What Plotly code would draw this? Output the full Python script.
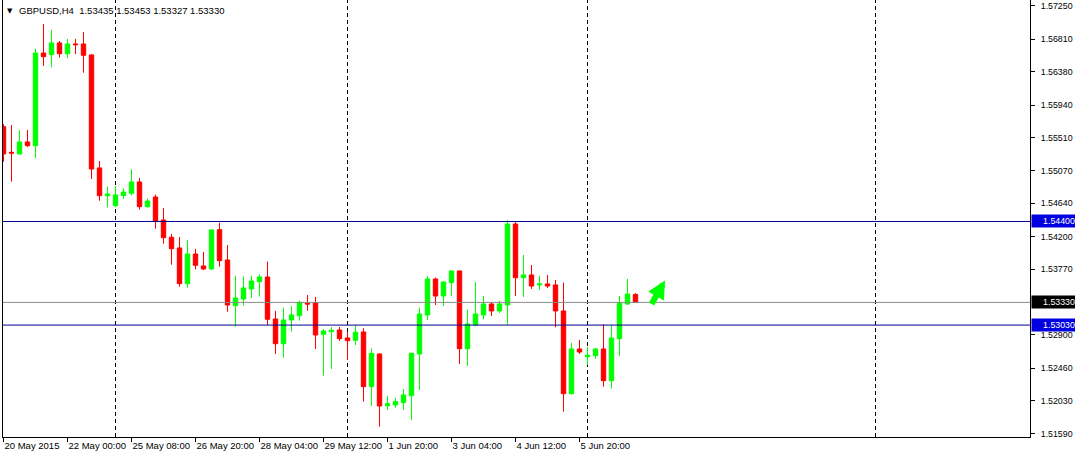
import plotly.graph_objects as go

# ---------------- data (GBPUSD, H4) ----------------
bar_index = list(range(80))

opens = [1.55654, 1.55315, 1.55293, 1.55452, 1.55403, 1.56628, 1.56606, 1.56761, 1.56619, 1.56748,
         1.56747, 1.56602, 1.55108, 1.54741, 1.54609, 1.54744, 1.54773, 1.54923, 1.54596, 1.54724,
         1.54420, 1.54191, 1.54050, 1.53578, 1.53970, 1.53812, 1.53772, 1.54292, 1.53891, 1.53287,
         1.53375, 1.53508, 1.53604, 1.53666, 1.53111, 1.52784, 1.53098, 1.53155, 1.53322, 1.53326,
         1.52909, 1.52943, 1.52965, 1.52860, 1.52829, 1.52939, 1.52216, 1.52648, 1.51964, 1.51974,
         1.52004, 1.52097, 1.52648, 1.53164, 1.53640, 1.53415, 1.53591, 1.53746, 1.52718, 1.53032,
         1.53164, 1.53309, 1.53217, 1.53296, 1.54367, 1.53657, 1.53693, 1.53561, 1.53574, 1.53561,
         1.53217, 1.52123, 1.52714, 1.52612, 1.52626, 1.52714, 1.52295, 1.52850, 1.53309, 1.53435]

highs = [1.55690, 1.55676, 1.55606, 1.55610, 1.56685, 1.57012, 1.56937, 1.56787, 1.56814, 1.56814,
         1.56906, 1.56615, 1.55200, 1.54860, 1.54870, 1.54837, 1.55091, 1.54975, 1.54702, 1.54755,
         1.54579, 1.54235, 1.54195, 1.54152, 1.54037, 1.53997, 1.54294, 1.54384, 1.54089, 1.53680,
         1.53673, 1.53680, 1.53702, 1.53869, 1.53217, 1.53260, 1.53279, 1.53353, 1.53428, 1.53402,
         1.52979, 1.53005, 1.53005, 1.52935, 1.53032, 1.52988, 1.52723, 1.52655, 1.52093, 1.52070,
         1.52185, 1.52661, 1.53260, 1.53680, 1.53657, 1.53607, 1.53752, 1.53752, 1.53239, 1.53600,
         1.53415, 1.53336, 1.53349, 1.54420, 1.54394, 1.53957, 1.53825, 1.53680, 1.53693, 1.53627,
         1.53591, 1.52794, 1.52833, 1.52741, 1.52727, 1.53041, 1.53032, 1.53415, 1.53640, 1.53453]

lows = [1.55191, 1.54927, 1.55290, 1.55385, 1.55236, 1.56457, 1.56439, 1.56566, 1.56558, 1.56615,
        1.56368, 1.54962, 1.54675, 1.54588, 1.54588, 1.54698, 1.54747, 1.54556, 1.54583, 1.54305,
        1.54107, 1.53829, 1.53538, 1.53525, 1.53768, 1.53759, 1.53759, 1.53802, 1.53207, 1.53009,
        1.53289, 1.53389, 1.53406, 1.53032, 1.52648, 1.52599, 1.52943, 1.53088, 1.53221, 1.52714,
        1.52361, 1.52450, 1.52820, 1.52569, 1.52767, 1.52017, 1.51960, 1.51687, 1.51908, 1.51938,
        1.51908, 1.51775, 1.52172, 1.53098, 1.53296, 1.53283, 1.53415, 1.52516, 1.52489, 1.53025,
        1.53107, 1.53151, 1.53190, 1.53032, 1.53415, 1.53402, 1.53508, 1.53494, 1.53521, 1.53001,
        1.51885, 1.52110, 1.52648, 1.52503, 1.52582, 1.52216, 1.52189, 1.52622, 1.53296, 1.53327]

closes = [1.55293, 1.55305, 1.55452, 1.55403, 1.56628, 1.56580, 1.56761, 1.56619, 1.56747, 1.56738,
          1.56598, 1.55094, 1.54741, 1.54764, 1.54751, 1.54790, 1.54923, 1.54596, 1.54671, 1.54407,
          1.54186, 1.54041, 1.53578, 1.53970, 1.53821, 1.53772, 1.54288, 1.53882, 1.53296, 1.53389,
          1.53521, 1.53613, 1.53666, 1.53107, 1.52784, 1.53098, 1.53164, 1.53332, 1.53309, 1.52899,
          1.52952, 1.52961, 1.52850, 1.52824, 1.52935, 1.52216, 1.52657, 1.51960, 1.51991, 1.52017,
          1.52106, 1.52657, 1.53177, 1.53640, 1.53415, 1.53600, 1.53746, 1.52718, 1.53045, 1.53177,
          1.53309, 1.53217, 1.53309, 1.54367, 1.53657, 1.53693, 1.53547, 1.53574, 1.53547, 1.53217,
          1.52123, 1.52714, 1.52674, 1.52631, 1.52714, 1.52295, 1.52860, 1.53322, 1.53441, 1.53330]

time_tick_index = [0, 8, 16, 24, 32, 40, 48, 56, 64, 72]
time_tick_labels = ["20 May 2015", "22 May 00:00", "25 May 08:00", "26 May 20:00", "28 May 04:00",
                    "29 May 12:00", "1 Jun 20:00", "3 Jun 04:00", "4 Jun 12:00", "5 Jun 20:00"]

price_ticks = [1.57250, 1.56810, 1.56380, 1.55940, 1.55510, 1.55070, 1.54640,
               1.54200, 1.53770, 1.52900, 1.52460, 1.52030, 1.51590]
price_tick_labels = ["%.5f" % p for p in price_ticks]

week_separators = [14, 43, 73, 109]          # bar index of week starts
level_lines = [1.54400, 1.53030]             # horizontal line objects
bid_price = 1.53330
header_text = "GBPUSD,H4  1.53435 1.53453 1.53327 1.53330"
arrow_tip = (82.7, 1.53620)
arrow_tail = (80.9, 1.53290)

x_range = [-0.0625, 128.3125]
y_range = [1.51550, 1.57329]

FONT = "Liberation Sans, Arial, sans-serif"
LINE_BLUE = "#000096"
BOX_BLUE = "#0000e0"

fig = go.Figure()

fig.add_trace(go.Candlestick(
    x=bar_index, open=opens, high=highs, low=lows, close=closes,
    increasing=dict(line=dict(color="#00ff00", width=1), fillcolor="#00ff00"),
    decreasing=dict(line=dict(color="#ff0000", width=1), fillcolor="#ff0000"),
    whiskerwidth=0, showlegend=False, hoverinfo="skip"))

shapes = []
for s in week_separators:
    shapes.append(dict(type="line", xref="x", yref="paper", x0=s, x1=s, y0=0, y1=1,
                       line=dict(color="black", width=1, dash="4px,3px"), layer="below"))
for lv in level_lines:
    shapes.append(dict(type="line", xref="paper", yref="y", x0=0, x1=1, y0=lv, y1=lv,
                       line=dict(color=LINE_BLUE, width=1), layer="above"))
shapes.append(dict(type="line", xref="paper", yref="y", x0=0, x1=1, y0=bid_price, y1=bid_price,
                   line=dict(color="#8a8a8a", width=1), layer="above"))

annotations = []
for lv in level_lines:
    annotations.append(dict(x=1, xref="paper", xanchor="left", xshift=1, y=lv, yref="y",
                            yanchor="middle", text="%.5f" % lv, showarrow=False,
                            font=dict(family=FONT, size=8.8, color="white"),
                            bgcolor=BOX_BLUE, width=42, height=10, borderpad=1, align="right"))
annotations.append(dict(x=1, xref="paper", xanchor="left", xshift=1, y=bid_price, yref="y",
                        yanchor="middle", text="%.5f" % bid_price, showarrow=False,
                        font=dict(family=FONT, size=8.8, color="white"),
                        bgcolor="black", width=42, height=10, borderpad=1, align="right"))
annotations.append(dict(x=0, xref="paper", xanchor="left", xshift=2, y=1, yref="paper",
                        yanchor="top", yshift=-5, text="▼", showarrow=False,
                        font=dict(family="DejaVu Sans", size=7, color="black")))
annotations.append(dict(x=0, xref="paper", xanchor="left", xshift=14, y=1, yref="paper",
                        yanchor="top", yshift=-3, text=header_text, showarrow=False,
                        font=dict(family=FONT, size=9.5, color="black")))
annotations.append(dict(x=arrow_tip[0], y=arrow_tip[1], xref="x", yref="y",
                        ax=arrow_tail[0], ay=arrow_tail[1], axref="x", ayref="y",
                        showarrow=True, arrowhead=2, arrowsize=0.6, arrowwidth=6,
                        arrowcolor="#00ff00", text=""))

fig.update_layout(
    width=1075, height=455, autosize=False,
    margin=dict(l=3, r=45, t=0, b=18, pad=0, autoexpand=False),
    paper_bgcolor="white", plot_bgcolor="white",
    boxgap=0.45, boxgroupgap=0,
    shapes=shapes, annotations=annotations,
    font=dict(family=FONT, size=9.5, color="black"),
    xaxis=dict(range=x_range, showgrid=False, zeroline=False, showline=True,
               linecolor="black", linewidth=1, ticks="outside", ticklen=4, tickcolor="black",
               tickvals=time_tick_index, ticktext=time_tick_labels,
               ticklabelposition="outside right", tickangle=0, automargin=False,
               tickfont=dict(family=FONT, size=9.5, color="black"),
               rangeslider=dict(visible=False), fixedrange=True),
    yaxis=dict(range=y_range, side="right", showgrid=False, zeroline=False, showline=True,
               mirror=True, linecolor="black", linewidth=1, ticks="outside", ticklen=4,
               tickcolor="black", tickvals=price_ticks, ticktext=price_tick_labels,
               ticklabelstandoff=4, automargin=False,
               tickfont=dict(family=FONT, size=8.8, color="black"), fixedrange=True),
)

fig.write_html("out.html", config={"displayModeBar": False, "staticPlot": True},
               post_script="document.body.style.margin='0px';document.body.style.padding='0px';")
